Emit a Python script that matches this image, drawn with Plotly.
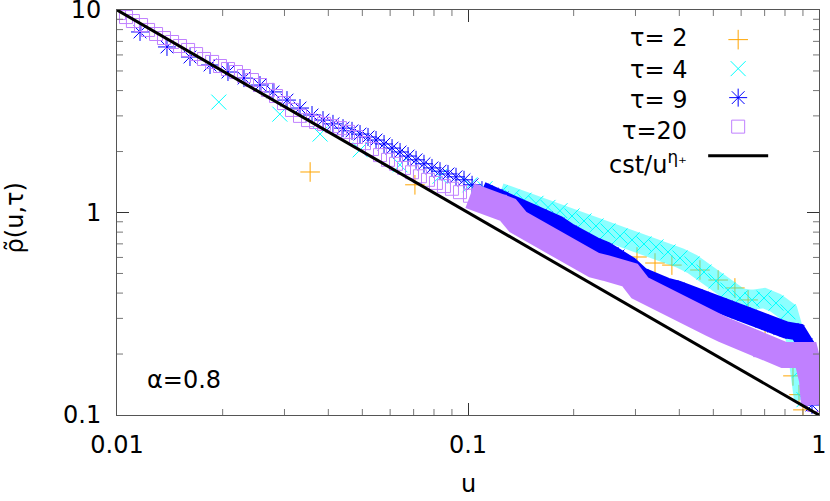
import numpy as np
import plotly.graph_objects as go

FONT = "DejaVu Sans"
ORANGE = "#ffa500"
CYAN = "#00ffff"
BLUE = "#0000ff"
PURPLE = "#c080ff"

# ── data ─────────────────────────────────────────────────────────────────────
tau2_u = [0.0355, 0.0706, 0.271, 0.303, 0.341, 0.381, 0.458, 0.516, 0.576,
          0.628, 0.702, 0.843, 0.877, 0.900]
tau2_rho = [1.585, 1.37, 0.569, 0.603, 0.563, 0.550, 0.520, 0.464, 0.424,
            0.370, 0.240, 0.156, 0.126, 0.106]

tau4_u = [0.0195, 0.0291, 0.0379, 0.0493, 0.0640, 0.0832, 0.1013, 0.1118,
          0.1234, 0.1335, 0.1444, 0.1562, 0.1690, 0.1828, 0.1978, 0.2140,
          0.2315, 0.2505, 0.2710, 0.2932, 0.3172, 0.3432, 0.3713, 0.4018,
          0.4347, 0.4703, 0.5088, 0.5503, 0.5955, 0.6443, 0.6970, 0.7541,
          0.8159, 0.8601, 0.8829, 0.9064]
tau4_rho = [3.51, 3.06, 2.44, 2.04, 1.72, 1.51, 1.37, 1.31,
            1.25, 1.19, 1.15, 1.11, 1.06, 1.02, 0.961, 0.908,
            0.858, 0.810, 0.765, 0.732, 0.699, 0.676, 0.638, 0.596,
            0.557, 0.508, 0.459, 0.414, 0.378, 0.370, 0.378, 0.357,
            0.323, 0.235, 0.167, 0.119]

tau9_u = [0.01163, 0.01388, 0.01614, 0.01841, 0.02071, 0.02300, 0.02555,
          0.02782, 0.03050, 0.03322, 0.03594, 0.03863, 0.04124, 0.04405,
          0.04672, 0.04925, 0.05190, 0.05470, 0.05765, 0.06076, 0.06403,
          0.06749, 0.07112, 0.07492, 0.07896, 0.08322, 0.08770, 0.09243,
          0.09741, 0.1027, 0.1096, 0.1171, 0.1250, 0.1335, 0.1425, 0.1542,
          0.1668, 0.1804, 0.1953, 0.2113, 0.2286, 0.2472, 0.2676, 0.2894,
          0.3131, 0.3388, 0.3664, 0.3964, 0.4290, 0.4642, 0.5022, 0.5433,
          0.5878, 0.6359, 0.6880, 0.7444, 0.8054, 0.8714, 0.9183, 0.9427,
          0.9552]
tau9_rho = [7.79, 6.57, 5.86, 5.35, 4.94, 4.61, 4.26,
            3.94, 3.59, 3.28, 3.03, 2.86, 2.74, 2.61,
            2.53, 2.44, 2.36, 2.28, 2.18, 2.08, 1.99,
            1.90, 1.82, 1.74, 1.66, 1.60, 1.55, 1.50,
            1.45, 1.37, 1.29, 1.23, 1.18, 1.09, 1.03, 0.983,
            0.939, 0.877, 0.801, 0.732, 0.691, 0.653, 0.610, 0.550,
            0.486, 0.454, 0.434, 0.419, 0.396, 0.378, 0.357, 0.341,
            0.323, 0.308, 0.291, 0.275, 0.263, 0.257, 0.222, 0.158,
            0.112]

tau20_u = [0.01013, 0.01061, 0.01110, 0.01171, 0.01226, 0.01292, 0.01361,
           0.01435, 0.01512, 0.01594, 0.01680, 0.01770, 0.01866, 0.01965,
           0.02071, 0.02183, 0.02300, 0.02424, 0.02555, 0.02692, 0.02838,
           0.02990, 0.03152, 0.03322, 0.03501, 0.03690, 0.03889, 0.04098,
           0.04319, 0.04551, 0.04797, 0.05055, 0.05327, 0.05614, 0.05917,
           0.06236, 0.06572, 0.06926, 0.07296, 0.07691, 0.08104, 0.08541,
           0.09001, 0.09488, 0.1013, 0.1082, 0.1155, 0.1234, 0.1300, 0.1388,
           0.1502, 0.1625, 0.1735, 0.1853, 0.1978, 0.2113, 0.2286, 0.2472,
           0.2676, 0.2894, 0.3090, 0.3343, 0.3617, 0.3913, 0.4233, 0.4581,
           0.4955, 0.5362, 0.5801, 0.6276, 0.6789, 0.7346, 0.7948, 0.8601,
           0.9183, 0.9552, 0.9678]
tau20_rho = [9.66, 9.23, 8.82, 8.43, 7.97, 7.61, 7.27,
             6.95, 6.64, 6.35, 6.06, 5.73, 5.54, 5.29,
             5.11, 4.94, 4.72, 4.51, 4.26, 4.03, 3.76,
             3.47, 3.21, 3.00, 2.86, 2.80, 2.74, 2.67,
             2.61, 2.50, 2.36, 2.20, 2.06, 1.92, 1.82,
             1.74, 1.66, 1.58, 1.51, 1.45, 1.40, 1.35,
             1.31, 1.26, 1.21, 1.18, 1.15, 1.13, 1.03, 0.898,
             0.820, 0.766, 0.732, 0.668, 0.617, 0.569, 0.550, 0.532,
             0.520, 0.491, 0.424, 0.391, 0.383, 0.361, 0.323, 0.294,
             0.281, 0.263, 0.248, 0.235, 0.209, 0.200, 0.198, 0.198,
             0.198, 0.149, 0.112]

fit_u = [0.01, 1.0]
fit_rho = [10.0, 0.1]   # cst/u^eta+, eta+ = 1

legend_names = ["τ= 2", "τ= 4", "τ= 9", "τ=20", "cst/u<sup>η₊</sup>"]


def dense(u, rho, umin):
    u, rho = np.asarray(u), np.asarray(rho)
    m = u >= umin
    return u[m], rho[m]


fig = go.Figure()

# τ=2
fig.add_trace(go.Scatter(
    x=tau2_u, y=tau2_rho, mode="markers", name=" ",
    marker=dict(symbol="cross-thin", size=14, color=ORANGE,
                line=dict(color=ORANGE, width=1)),
))

# τ=4
bu, br = dense(tau4_u, tau4_rho, 0.12)
fig.add_trace(go.Scatter(
    x=bu, y=br, mode="lines", showlegend=False, hoverinfo="skip",
    line=dict(color="rgba(0,255,255,0.45)", width=20),
))
fig.add_trace(go.Scatter(
    x=tau4_u, y=tau4_rho, mode="markers", name=" ",
    marker=dict(symbol="x-thin", size=15, color=CYAN,
                line=dict(color=CYAN, width=1)),
))

# τ=9
bu, br = dense(tau9_u, tau9_rho, 0.105)
fig.add_trace(go.Scatter(
    x=bu, y=br, mode="lines", showlegend=False, hoverinfo="skip",
    line=dict(color=BLUE, width=17),
))
fig.add_trace(go.Scatter(
    x=tau9_u, y=tau9_rho, mode="markers", name=" ",
    marker=dict(symbol="asterisk", size=15, color=BLUE,
                line=dict(color=BLUE, width=1)),
))

# τ=20
bu, br = dense(tau20_u, tau20_rho, 0.1)
fig.add_trace(go.Scatter(
    x=bu, y=br, mode="lines", showlegend=False, hoverinfo="skip",
    line=dict(color=PURPLE, width=26),
))
fig.add_trace(go.Scatter(
    x=tau20_u, y=tau20_rho, mode="markers", name=" ",
    marker=dict(symbol="square-open", size=13, color=PURPLE,
                line=dict(color=PURPLE, width=1)),
))

# power law
fig.add_trace(go.Scatter(
    x=fit_u, y=fit_rho, mode="lines", name=" ",
    line=dict(color="black", width=3),
))

axis_common = dict(
    type="log", showgrid=False, zeroline=False, automargin=False,
    showline=True, linecolor="#555", linewidth=1, mirror="allticks",
    ticks="inside", ticklen=12, tickcolor="#333", tickwidth=1,
    ticklabeloverflow="allow",
    tickfont=dict(family=FONT, size=24, color="black"),
)

# minor ticks (2..9 in each decade) on all four sides
minor_pos = [np.log10(a * 10.0 ** e) for e in (0, 1) for a in range(2, 10)]
tick_frac = [p / 2.0 for p in minor_pos]
shapes = []
for f in tick_frac:
    for y0, y1 in ((0, 6 / 405), (1, 1 - 6 / 405)):
        shapes.append(dict(type="line", xref="x domain", yref="y domain",
                           x0=f, x1=f, y0=y0, y1=y1,
                           line=dict(color="#777", width=1)))
    for x0, x1 in ((0, 6 / 702), (1, 1 - 6 / 702)):
        shapes.append(dict(type="line", xref="x domain", yref="y domain",
                           x0=x0, x1=x1, y0=f, y1=f,
                           line=dict(color="#777", width=1)))

# legend texts sit left of the keys, as in the original
legend_rows = [0.931, 0.852, 0.778, 0.701, 0.622]
annotations = [
    dict(text=name, x=0.815, y=yy, xref="paper", yref="paper",
         xanchor="right", yanchor="middle", showarrow=False,
         font=dict(family=FONT, size=24))
    for name, yy in zip(legend_names, legend_rows)
]
annotations += [
    dict(text="α=0.8", x=0.04, y=0.086, xref="paper", yref="paper",
         xanchor="left", yanchor="middle", showarrow=False,
         font=dict(family=FONT, size=24)),
    dict(text="u", x=0.5, y=-0.17, xref="paper", yref="paper",
         xanchor="center", yanchor="middle", showarrow=False,
         font=dict(family=FONT, size=24)),
    dict(text="ρ̃(u,τ)", x=-0.145, y=0.486, xref="paper", yref="paper",
         xanchor="center", yanchor="middle", showarrow=False,
         textangle=-90, font=dict(family=FONT, size=24)),
]

fig.update_layout(
    width=830, height=501,
    paper_bgcolor="white", plot_bgcolor="white",
    font=dict(family=FONT, size=24, color="black"),
    margin=dict(l=117, r=11, t=10, b=86),
    xaxis=dict(**axis_common, range=[-2, 0],
               tickvals=[0.01, 0.1, 1], ticktext=["0.01", "0.1", "1"],
               ticklabelstandoff=8),
    yaxis=dict(**axis_common, range=[-1, 1],
               tickvals=[0.1, 1, 10], ticktext=["0.1", "1", "10"],
               ticklabelstandoff=10),
    legend=dict(x=0.835, y=0.975, xanchor="left", yanchor="top",
                bgcolor="rgba(0,0,0,0)", font=dict(family=FONT, size=20),
                tracegroupgap=0, itemwidth=60),
    shapes=shapes,
    annotations=annotations,
)

# drop the browser's default 8 px body margin so the figure fills the window
fig.write_html("out.html", config={"displayModeBar": False},
               post_script="document.body.style.margin = '0';")
